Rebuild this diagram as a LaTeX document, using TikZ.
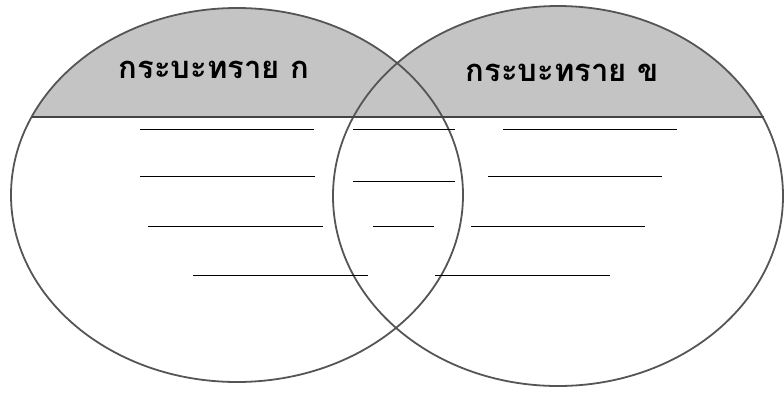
\documentclass[tikz,border=0pt]{standalone}
\usepackage{fontspec}
\newfontfamily\thaifont[Script=Thai]{Loma}
\usetikzlibrary{positioning}
\definecolor{boxfill}{RGB}{196,196,196}
\definecolor{rimgray}{RGB}{85,85,85}

\begin{document}
\begin{tikzpicture}[
    x=1pt, y=-1pt,
    rim/.style={draw=rimgray, line width=1.8pt},
    blank/.style={black, line width=0.9pt},
    title/.style={font=\thaifont\bfseries\fontsize{31}{34}\selectfont},
  ]
  \useasboundingbox (0,0) rectangle (784,392);

  % Shaded top band of both sandboxes
  \begin{scope}
    \clip (0,0) rectangle (784,117);
    \fill[boxfill] (237,195) ellipse [x radius=226pt, y radius=187pt];
    \fill[boxfill] (558,196) ellipse [x radius=225pt, y radius=190pt];
  \end{scope}

  % Outlines
  \draw[rim] (237,195) ellipse [x radius=226pt, y radius=187pt];
  \draw[rim] (558,196) ellipse [x radius=225pt, y radius=190pt];
  \draw[line width=2pt, rimgray!80!black] (32,117) -- (764,117);

  % Titles
  \node[title] (boxA) at (214,70) {กระบะทราย ก};
  \node[title] (boxB) at (562,73) {กระบะทราย ข};

  % Blank lines to write on
  \foreach \xa/\xb/\y in {140/314/129, 353/455/129, 503/677/129,
                          140/315/176, 353/455/181, 488/662/176,
                          148/323/226, 373/434/226, 471/645/226,
                          193/368/275, 435/610/275}
    \draw[blank] (\xa,\y) -- (\xb,\y);
\end{tikzpicture}
\end{document}
